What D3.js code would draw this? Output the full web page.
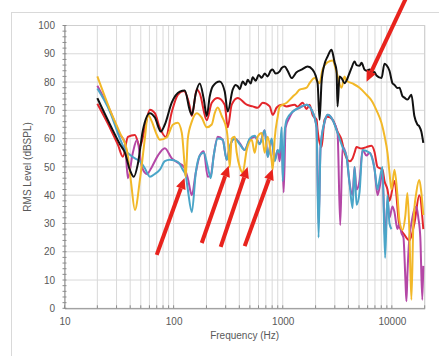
<!DOCTYPE html>
<html>
<head>
<meta charset="utf-8">
<script src="https://cdn.jsdelivr.net/npm/d3@7"></script>
<style>
  html, body { margin: 0; padding: 0; background: #fff; }
  svg { display: block; font-family: "Liberation Sans", Arial, sans-serif; }
  .tick text { fill: #595959; font-size: 10px; }
</style>
</head>
<body>
<div id="chart"></div>
<script>
// axis ticks
const xTickLabels = [10, 100, 1000, 10000];
const yTicks = [0, 10, 20, 30, 40, 50, 60, 70, 80, 90, 100];

// black series
const blackHz = [20, 26.1, 32.2, 35.8, 39.7, 43.2, 47, 52.3, 60.6, 67.3, 76.4, 83.1, 96.3, 114, 126.6, 140.6, 146.8, 159.7, 173.6, 188.9,
  201.2, 214.4, 228.3, 264.6, 294, 313.2, 348, 370.8, 386.7, 403.4, 429.7, 457.8, 477.5, 508.5, 530.6, 565, 602, 641.6, 683.5, 728,
  775, 809, 861, 937.7, 978.2, 1041, 1109, 1206, 1339, 1489, 1690, 1877, 2086, 2175, 2269, 2417, 2574, 2801, 2985, 3113,
  3179, 3317, 3459, 3685, 4095, 4272, 4550, 4747, 5055, 5273, 5617, 5859, 6241, 6511, 6935, 7234, 8038, 8562, 8929, 9512,
  10132, 10569, 11254, 11739, 12504, 13040, 13887, 15101, 16081, 17125, 17858, 18622, 19419];
const blackDb = [74.3, 65, 58, 55, 49, 46.5, 51, 63, 69, 67.5, 62.5, 65, 72.8, 76.6, 77, 70, 68.4, 76, 79.5, 74,
  68, 75, 78.5, 80.2, 76.7, 69.6, 77.3, 79, 78.5, 77.5, 80.2, 79, 80.8, 79.5, 81.7, 80.5, 82.5, 81.5, 83, 82,
  84, 84.4, 83, 83.8, 85, 85.5, 84, 81.4, 83.5, 84.4, 85.5, 84.4, 79.6, 66.7, 80, 86.4, 89, 91.4, 87, 84,
  71.4, 82, 81.4, 79.6, 83.2, 85, 87.3, 86, 85.8, 86.8, 84.4, 84, 84.4, 83.8, 83.5, 82.3, 81.4, 86.5, 86, 84,
  79.6, 79, 77.9, 78, 75, 74.5, 73.8, 75.5, 68, 65, 64.3, 62.5, 58.5];

// red series
const redHz = [20, 26.1, 30.9, 34.3, 38.1, 44.2, 49.1, 54.5, 60.6, 67.3, 74.8, 84.8, 96.3, 109.2, 124, 140.6, 146.8, 163, 173.6, 201.2,
  223.6, 253.6, 294, 313.2, 340.7, 386.7, 467.6, 530.6, 589.6, 655.2, 759.5, 809, 880.3, 978.2, 1086, 1284, 1368, 1521, 1655, 1762,
  1877, 2042, 2086, 2269, 2417, 2574, 2861, 3179, 3459, 3685, 4095, 4363, 4550, 4747, 5273, 5859, 6511, 6935, 7388, 8208,
  8562, 9119, 9512, 10569, 11739, 13040, 14481, 16081, 17858, 19419];
const redDb = [72.3, 63.8, 57.8, 53.6, 60.6, 61.3, 57.1, 63.8, 70.2, 69, 63.8, 60.6, 69.5, 75.5, 76.8, 71.4, 68, 77.5, 76, 66.5,
  72.7, 74.4, 72, 64, 72, 74.4, 72, 71.4, 70.9, 72.7, 71.4, 68.4, 71, 72, 71.4, 72, 71.3, 72.7, 70.5, 72,
  68.4, 66.7, 63, 57, 66.7, 67.7, 66.7, 62.5, 59.6, 55, 52, 53, 55, 57, 56.5, 57, 57.5, 55.3, 50, 49,
  45, 42, 38, 45, 29, 26, 24, 30, 40, 28];

// purple series
const purpleHz = [20, 26.1, 32.2, 35.8, 38.1, 42.3, 46.1, 51.2, 56.9, 63.2, 71.7, 83.1, 96.3, 109.2, 124, 134.9, 146.8, 159.7, 173.6, 188.9,
  205.5, 218.9, 233.1, 253.6, 281.9, 306.7, 326.6, 363, 403.4, 448.2, 498.1, 553.5, 615, 683.5, 728, 792.3, 843.9, 898.9, 937.7, 978.2,
  1020, 1063, 1156, 1232, 1428, 1655, 1838, 2042, 2130, 2222, 2417, 2574, 2861, 3179, 3365, 3532, 3844, 4095, 4363, 4550,
  4747, 5055, 5385, 5859, 6241, 6935, 7388, 7706, 8208, 8670, 9119, 9512, 10132, 10569, 11254, 11739, 12245, 12769, 13316, 13599,
  13887, 14481, 15101, 16081, 16770, 17488, 18236, 19017, 19419];
const purpleDb = [78.7, 70, 61.5, 58.5, 46, 55, 59.5, 50, 47.5, 50, 54, 56.6, 53, 51.5, 50, 46, 40, 48, 54, 55.5,
  46.5, 47, 54, 60.7, 59.6, 52.5, 57, 60, 58.4, 56, 59.6, 60.7, 58.4, 63, 53.6, 59.6, 52.5, 56, 52, 60,
  41, 64, 67.5, 69.5, 70.9, 72, 70.2, 64, 30, 57, 65.6, 68.4, 66.7, 62, 29.4, 57, 53.6, 44.3, 40, 50,
  42, 45, 56, 54, 55, 49.3, 40, 42.6, 48, 24, 38, 32, 36, 34, 28, 30, 26.6, 25, 10, 2.5,
  12, 25, 30, 35, 36, 32, 25, 3, 15];

// blue series
const blueHz = [20, 26.1, 32.2, 35.8, 39.7, 44.2, 49.1, 54.5, 60.6, 67.3, 74.8, 83.1, 92.3, 109.2, 121.4, 129.2, 134.9, 146.8, 159.7, 173.6,
  188.9, 205.5, 218.9, 233.1, 253.6, 281.9, 306.7, 326.6, 363, 403.4, 448.2, 498.1, 553.5, 615, 683.5, 728, 792.3, 843.9, 898.9, 937.7,
  978.2, 998.9, 1041, 1086, 1232, 1428, 1655, 1838, 2042, 2130, 2222, 2417, 2574, 2861, 3179, 3532, 3844, 4095, 4363, 4550,
  4747, 5055, 5385, 6241, 6935, 7388, 7706, 8208, 8670, 9119, 9512, 9922];
const blueDb = [77.7, 69.5, 60, 56, 54.3, 53, 52, 49.5, 46.5, 47.5, 49, 52, 52.5, 51.8, 49, 47, 42, 34, 48, 54,
  55, 50, 46, 54, 60, 59.6, 52.5, 57, 60, 58, 56, 60, 61, 58, 63, 53.5, 60, 52, 56, 55,
  64, 45, 62, 66.7, 69.5, 71, 72, 70.2, 64, 25, 57, 66, 68.4, 66.7, 62, 57, 53.6, 44.3, 35.5, 50,
  36.6, 41, 56, 55, 49.3, 42, 45.4, 50, 17.8, 40, 30, 28];

// yellow series
const yellowHz = [20, 26.1, 32.2, 37.3, 40.6, 44.2, 49.1, 54.5, 58.1, 63.2, 70.2, 74.8, 86.7, 98.3, 109.2, 118.9, 126.6, 129.2, 134.9, 146.8,
  163, 181.1, 201.2, 223.6, 238.1, 253.6, 276, 306.7, 313.2, 326.6, 340.7, 363, 378.7, 403.4, 429.7, 467.6, 519.6, 553.5, 589.6, 641.6,
  683.5, 728, 792.3, 809, 843.9, 898.9, 937.7, 1086, 1232, 1339, 1428, 1655, 1762, 1958, 2175, 2317, 2574, 2861, 3113, 3459,
  3685, 3844, 4363, 5055, 5859, 6511, 7234, 8038, 8562, 9119, 9512, 9922, 10569, 11254, 11739, 12504, 13316, 13887, 14481, 15101,
  15748, 16770, 17858, 18622, 19419];
const yellowDb = [82, 70.2, 62, 56, 45, 34.8, 45.4, 60, 68.4, 66, 61.3, 59.6, 60.5, 64.9, 65.6, 62, 50, 46.5, 60, 66,
  69, 67.4, 64, 65, 69, 71, 68, 63, 60, 50, 60, 60.7, 55, 50, 48, 56, 59.6, 55, 60.7, 62,
  55, 60.7, 52, 49, 60, 67.7, 71.3, 72.7, 74.8, 76.1, 77.3, 78, 79.6, 81.4, 79.6, 84.4, 87, 87.6, 83.5, 78,
  82, 80.5, 79.5, 78, 75.5, 73.5, 70, 65.5, 61, 55, 48, 42, 49, 40, 31, 27.7, 33, 40.8, 27, 3,
  30, 41, 45.4, 41, 33];

// annotation arrows (tail -> tip), in Hz and dB
const arrowTailHz = [70, 181, 270, 448, 13600];
const arrowTailDb = [18.9, 23.1, 21.7, 22, 110];
const arrowTipHz = [126, 320, 477, 809, 5860];
const arrowTipDb = [46.1, 50.4, 50, 49.3, 80.1];

const width = 439, height = 356;
const margin = { top: 25.5, right: 14.3, bottom: 47.7, left: 64.5 };
const innerW = width - margin.left - margin.right;
const innerH = height - margin.top - margin.bottom;

const svg = d3.select('#chart').append('svg')
  .attr('width', width)
  .attr('height', height);

// outer chart frame
svg.append('rect')
  .attr('x', 11.5).attr('y', 12.5)
  .attr('width', 440).attr('height', 360)
  .attr('fill', '#fff')
  .attr('stroke', '#d9d9d9');

const g = svg.append('g')
  .attr('transform', 'translate(' + margin.left + ',' + margin.top + ')');

const x = d3.scaleLog().domain([10, 20000]).range([0, innerW]);
const y = d3.scaleLinear().domain([0, 100]).range([innerH, 0]);

// gridlines
g.append('g').selectAll('line')
  .data(x.ticks().filter(d => d > 10))
  .enter().append('line')
  .attr('x1', d => x(d)).attr('x2', d => x(d))
  .attr('y1', 0).attr('y2', innerH)
  .attr('stroke', '#d9d9d9').attr('stroke-width', 1);

g.append('g').selectAll('line')
  .data(yTicks.filter(d => d > 0))
  .enter().append('line')
  .attr('x1', 0).attr('x2', innerW)
  .attr('y1', d => y(d)).attr('y2', d => y(d))
  .attr('stroke', '#d9d9d9').attr('stroke-width', 1);

// plot border
g.append('rect')
  .attr('width', innerW).attr('height', innerH)
  .attr('fill', 'none').attr('stroke', '#cfcfcf');

// series
const line = d3.line()
  .x(d => x(d[0]))
  .y(d => y(d[1]))
  .curve(d3.curveMonotoneX);

const series = [
  { hz: redHz, db: redDb, color: '#e3262b' },
  { hz: purpleHz, db: purpleDb, color: '#b447a6' },
  { hz: blueHz, db: blueDb, color: '#4aa5c8' },
  { hz: yellowHz, db: yellowDb, color: '#f2b828' },
  { hz: blackHz, db: blackDb, color: '#111111' }
];

g.append('g').selectAll('path')
  .data(series)
  .enter().append('path')
  .attr('d', s => line(s.hz.map((f, i) => [f, s.db[i]])))
  .attr('fill', 'none')
  .attr('stroke', s => s.color)
  .attr('stroke-width', 2)
  .attr('stroke-linejoin', 'round');

// axes
const yAxis = d3.axisLeft(y).tickValues(yTicks).tickSize(0).tickPadding(9.5);
const xAxis = d3.axisBottom(x).tickValues(xTickLabels).tickFormat(d3.format('d')).tickSize(0).tickPadding(10);

const yG = g.append('g').call(yAxis);
yG.select('.domain').attr('stroke', '#8c8c8c');

const xG = g.append('g').attr('transform', 'translate(0,' + innerH + ')').call(xAxis);
xG.select('.domain').attr('stroke', '#8c8c8c');

// minor ticks
g.append('g').selectAll('line')
  .data(y.ticks(50))
  .enter().append('line')
  .attr('x1', -2).attr('x2', 2)
  .attr('y1', d => y(d)).attr('y2', d => y(d))
  .attr('stroke', '#8c8c8c');

g.append('g').selectAll('line')
  .data(x.ticks())
  .enter().append('line')
  .attr('x1', d => x(d)).attr('x2', d => x(d))
  .attr('y1', innerH - 3).attr('y2', innerH)
  .attr('stroke', '#8c8c8c');

// axis titles
svg.append('text')
  .attr('x', margin.left + innerW / 2)
  .attr('y', 339)
  .attr('text-anchor', 'middle')
  .attr('font-size', 10)
  .attr('fill', '#595959')
  .text('Frequency (Hz)');

svg.append('text')
  .attr('transform', 'translate(31,' + (margin.top + innerH / 2) + ') rotate(-90)')
  .attr('text-anchor', 'middle')
  .attr('font-size', 10)
  .attr('fill', '#595959')
  .text('RMS Level (dBSPL)');

// red arrows
const arrowColor = '#e8231d';
arrowTailHz.forEach((f, i) => {
  const x0 = x(f), y0 = y(arrowTailDb[i]);
  const x1 = x(arrowTipHz[i]), y1 = y(arrowTipDb[i]);
  const a = Math.atan2(y1 - y0, x1 - x0);
  const headLen = 11, headHalf = 5;
  const bx = x1 - headLen * Math.cos(a), by = y1 - headLen * Math.sin(a);
  g.append('line')
    .attr('x1', x0).attr('y1', y0)
    .attr('x2', bx).attr('y2', by)
    .attr('stroke', arrowColor).attr('stroke-width', 4);
  g.append('polygon')
    .attr('points', [
      [x1, y1],
      [bx + headHalf * Math.sin(a), by - headHalf * Math.cos(a)],
      [bx - headHalf * Math.sin(a), by + headHalf * Math.cos(a)]
    ].map(p => p.join(',')).join(' '))
    .attr('fill', arrowColor);
});
</script>
</body>
</html>
